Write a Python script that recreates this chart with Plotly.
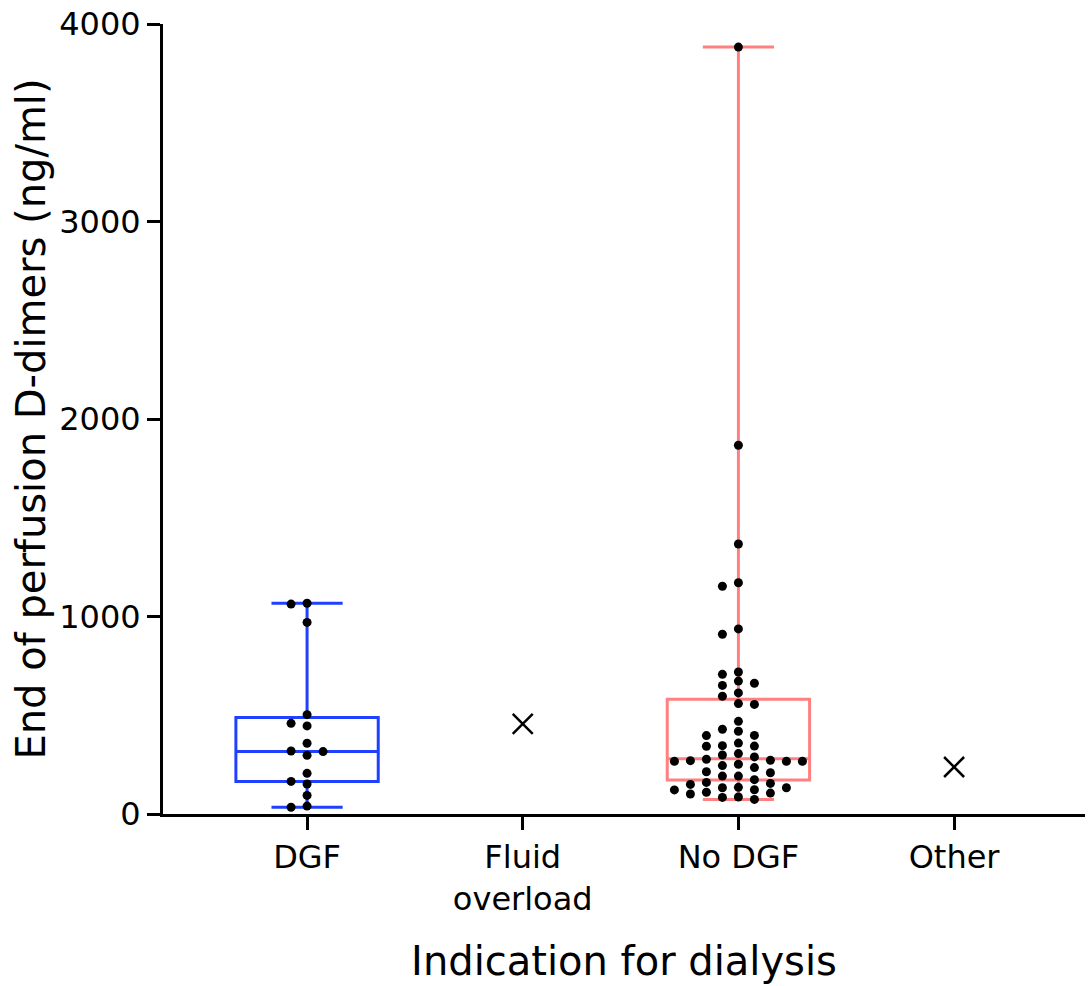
import numpy as np
import plotly.graph_objects as go

# ---------------- data ----------------
categories = ["DGF", "Fluid<br>overload", "No DGF", "Other"]

dgf_values = [1067, 1063, 970, 503, 459, 446, 358, 319, 316, 297,
              206, 165, 152, 94, 40, 34]

no_dgf_values = [3883, 1867, 1367, 1171, 1153, 937, 910, 719, 707, 673,
                 662, 651, 613, 596, 559, 555, 469, 429, 419, 398,
                 397, 359, 346, 344, 343, 306, 299, 289, 277, 272,
                 270, 267, 267, 267, 252, 245, 235, 214, 209, 192,
                 192, 174, 160, 155, 150, 135, 133, 133, 123, 122,
                 110, 106, 101, 86, 84, 74]

fluid_overload_values = [456]
other_values = [238]

# box statistics (DGF, No DGF)
box_q1 = [164, 172]
box_median = [317, 280]
box_q3 = [488, 581]

box_colors = ["#1f40ff", "#ff8080"]

# ---------------- helpers ----------------
CAT_PX = 215.67          # pixels per category
STEP = 16 / CAT_PX       # column spacing (category units)
THRESH = 46              # min vertical separation (data units) in the same column


def swarm_offsets(values):
    vals = np.asarray(values, dtype=float)
    order = np.argsort(-vals)
    placed = {}
    offsets = np.zeros(len(vals))
    cand = [0]
    for k in range(1, 20):
        cand += [-k, k]
    for idx in order:
        v = vals[idx]
        for c in cand:
            if all(abs(v - u) >= THRESH for u in placed.get(c, [])):
                placed.setdefault(c, []).append(v)
                offsets[idx] = c * STEP
                break
    return offsets


fig = go.Figure()

groups = [(0, dgf_values), (2, no_dgf_values)]
for i, (pos, vals) in enumerate(groups):
    fig.add_trace(go.Box(
        x=[pos], q1=[box_q1[i]], median=[box_median[i]], q3=[box_q3[i]],
        lowerfence=[min(vals)], upperfence=[max(vals)],
        width=0.66, whiskerwidth=0.5, boxpoints=False,
        line=dict(color=box_colors[i], width=3),
        fillcolor="rgba(0,0,0,0)", showlegend=False, hoverinfo="skip",
    ))

for pos, vals in groups:
    offs = swarm_offsets(vals)
    fig.add_trace(go.Scatter(
        x=pos + offs, y=vals, mode="markers",
        marker=dict(size=9, color="black"),
        showlegend=False,
    ))

for pos, vals in [(1, fluid_overload_values), (3, other_values)]:
    fig.add_trace(go.Scatter(
        x=[pos] * len(vals), y=vals, mode="markers",
        marker=dict(symbol="x-thin", size=20, color="black",
                    line=dict(color="black", width=2.5)),
        showlegend=False,
    ))

axis_common = dict(
    showline=True, linewidth=3, linecolor="black",
    ticks="outside", ticklen=13, tickwidth=3, tickcolor="black",
    showgrid=False, zeroline=False, automargin=False,
    ticklabeloverflow="allow",
    tickfont=dict(family="DejaVu Sans", size=32, color="black"),
)

fig.update_layout(
    width=1090, height=986,
    margin=dict(l=163, r=5, t=24, b=172, autoexpand=False),
    plot_bgcolor="white", paper_bgcolor="white",
    font=dict(family="DejaVu Sans", color="black"),
    xaxis=dict(
        range=[-0.668, 3.607],
        tickmode="array", tickvals=[0, 1, 2, 3], ticktext=categories,
        title=dict(text="Indication for dialysis",
                   font=dict(family="DejaVu Sans", size=40, color="black"),
                   standoff=30),
        **axis_common,
    ),
    yaxis=dict(
        range=[0, 4000],
        tickmode="array", tickvals=[0, 1000, 2000, 3000, 4000],
        title=dict(text="End of perfusion D-dimers (ng/ml)",
                   font=dict(family="DejaVu Sans", size=40, color="black"),
                   standoff=2),
        **axis_common,
    ),
)

fig.write_html(
    "out.html",
    config={"displayModeBar": False},
    post_script="document.body.style.margin='0';document.body.style.overflow='hidden';",
)
